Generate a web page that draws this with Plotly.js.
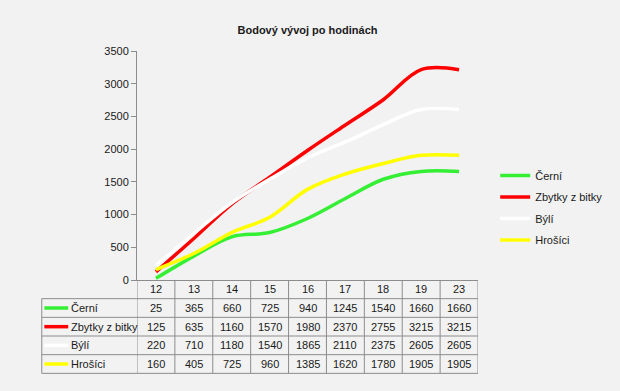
<!DOCTYPE html>
<html>
<head>
<meta charset="utf-8">
<script src="https://cdn.plot.ly/plotly-3.0.1.min.js"></script>
<style>html,body{margin:0;padding:0;background:#f2f2f2;}#chart{width:620px;height:391px;}</style>
</head>
<body>
<div id="chart"></div>
<script>
const categories = ['12', '13', '14', '15', '16', '17', '18', '19', '23'];
const seriesNames = ['Černí', 'Zbytky z bitky', 'Býlí', 'Hrošíci'];
const cerni = [25, 365, 660, 725, 940, 1245, 1540, 1660, 1660];
const zbytky = [125, 635, 1160, 1570, 1980, 2370, 2755, 3215, 3215];
const byli = [220, 710, 1180, 1540, 1865, 2110, 2375, 2605, 2605];
const hrosici = [160, 405, 725, 960, 1385, 1620, 1780, 1905, 1905];
const colors = ['#35ef35', '#ff0000', '#ffffff', '#ffff00'];
const yTicks = [0, 500, 1000, 1500, 2000, 2500, 3000, 3500];

const seriesValues = [cerni, zbytky, byli, hrosici];

// layout geometry (pixels)
const W = 620, H = 391;
const L = 137, R = 494, T = 51, B = 280;
const rowH = 18.67;
const tableLeft = 37.3;
const gridColor = '#8c8c8c';
const font = 'Liberation Sans, Arial, sans-serif';
const txtColor = '#1a1a1a';

const px2x = p => (p - L) / (R - L);
const px2y = p => (B - p) / (B - T);

const traces = seriesValues.map((vals, i) => ({
  type: 'scatter',
  mode: 'lines',
  x: categories,
  y: vals,
  name: seriesNames[i],
  legendgroup: 'g' + i,
  line: {color: colors[i], width: 3.5, shape: 'spline', smoothing: 1},
  hoverinfo: 'x+y+name'
}));

const shapes = [];
const annotations = [];
const nRows = seriesNames.length;
const tableBottom = B + rowH * (nRows + 1);

// horizontal grid lines of the table
for (let r = 1; r <= nRows + 1; r++) {
  const yp = B + rowH * r;
  shapes.push({type: 'line', xref: 'paper', yref: 'paper',
    x0: px2x(tableLeft), x1: 1, y0: px2y(yp), y1: px2y(yp),
    line: {color: gridColor, width: 1}});
}
// vertical lines at category boundaries
for (let k = 0; k <= categories.length; k++) {
  shapes.push({type: 'line', xref: 'x', yref: 'paper',
    x0: k - 0.5, x1: k - 0.5, y0: 0, y1: px2y(tableBottom),
    line: {color: gridColor, width: 1}});
}
// left edge of row-label column
shapes.push({type: 'line', xref: 'paper', yref: 'paper',
  x0: px2x(tableLeft), x1: px2x(tableLeft), y0: px2y(B + rowH), y1: px2y(tableBottom),
  line: {color: gridColor, width: 1}});

// header row: categories
categories.forEach((c, k) => {
  annotations.push({xref: 'x', yref: 'paper', x: k, y: px2y(B + rowH / 2),
    text: c, showarrow: false, xanchor: 'center', yanchor: 'middle',
    font: {family: font, size: 11, color: txtColor}});
});

// data rows
seriesValues.forEach((vals, i) => {
  const yc = B + rowH * (i + 1.5);
  shapes.push({type: 'line', xref: 'paper', yref: 'paper',
    x0: px2x(40), x1: px2x(65), y0: px2y(yc), y1: px2y(yc),
    line: {color: colors[i], width: 3.5}});
  annotations.push({xref: 'paper', yref: 'paper', x: px2x(66), y: px2y(yc),
    text: seriesNames[i], showarrow: false, xanchor: 'left', yanchor: 'middle',
    font: {family: font, size: 11, color: txtColor}});
  vals.forEach((v, k) => {
    annotations.push({xref: 'x', yref: 'paper', x: k, y: px2y(yc),
      text: String(v), showarrow: false, xanchor: 'center', yanchor: 'middle',
      font: {family: font, size: 11, color: txtColor}});
  });
});

const layout = {
  width: W, height: H,
  margin: {l: L, r: W - R, t: T, b: H - B, pad: 0},
  paper_bgcolor: '#f2f2f2',
  plot_bgcolor: '#f2f2f2',
  title: {text: '<b>Bodový vývoj po hodinách</b>', x: 0.5, xref: 'paper', xanchor: 'center',
    y: 1 - 30 / H, yanchor: 'middle', yref: 'container',
    font: {family: font, size: 11, color: txtColor}},
  xaxis: {type: 'category', range: [-0.5, categories.length - 0.5],
    showticklabels: false, ticks: '', showgrid: false, zeroline: false,
    showline: true, linecolor: gridColor, linewidth: 1, fixedrange: true},
  yaxis: {range: [0, 3500], tickvals: yTicks, ticks: 'outside', ticklen: 5,
    tickcolor: gridColor, showgrid: false, zeroline: false,
    showline: true, linecolor: gridColor, linewidth: 1,
    tickfont: {family: font, size: 11, color: txtColor}, fixedrange: true},
  showlegend: true,
  legend: {x: px2x(512), xanchor: 'left', xref: 'paper',
    y: px2y(161), yanchor: 'top', yref: 'paper',
    bgcolor: 'rgba(0,0,0,0)', traceorder: 'grouped', tracegroupgap: 2.5,
    font: {family: font, size: 11, color: txtColor}, itemwidth: 30},
  shapes: shapes,
  annotations: annotations
};

Plotly.newPlot('chart', traces, layout, {displayModeBar: false, staticPlot: true});
</script>
</body>
</html>
